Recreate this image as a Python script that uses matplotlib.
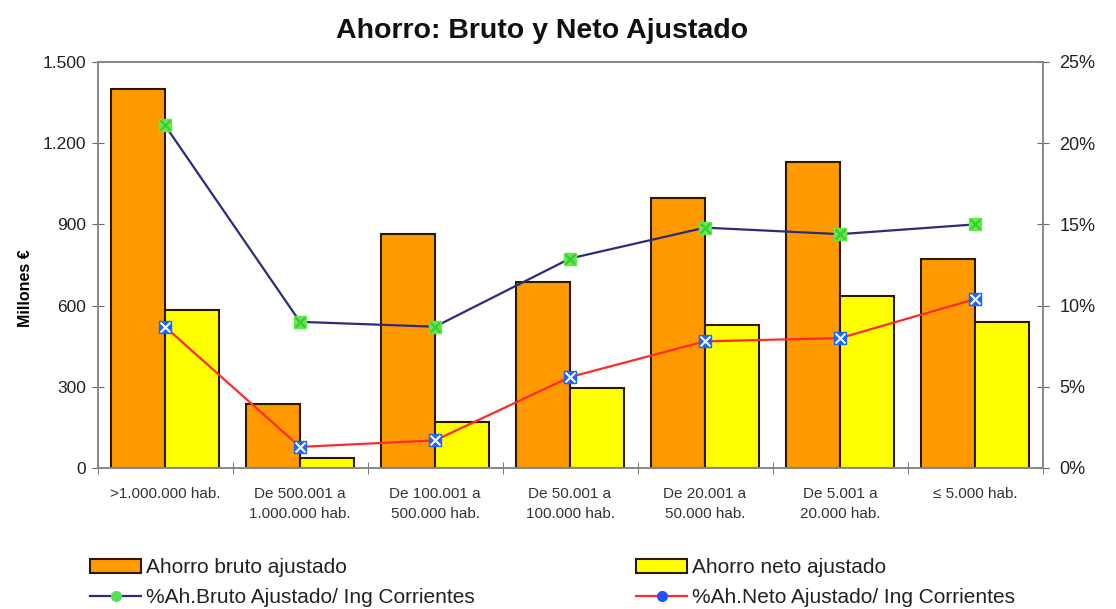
import matplotlib
matplotlib.use("Agg")
import matplotlib.pyplot as plt
import numpy as np
from matplotlib.patches import Patch
from matplotlib.lines import Line2D
from matplotlib.legend_handler import HandlerTuple
from matplotlib.ticker import FuncFormatter, MultipleLocator

plt.rcParams['font.family'] = ['Liberation Sans', 'DejaVu Sans']

categories = [">1.000.000 hab.", "De 500.001 a\n1.000.000 hab.", "De 100.001 a\n500.000 hab.",
              "De 50.001 a\n100.000 hab.", "De 20.001 a\n50.000 hab.", "De 5.001 a\n20.000 hab.",
              "≤ 5.000 hab."]
ahorro_bruto = [1400, 238, 864, 687, 997, 1130, 772]
ahorro_neto = [584, 37, 170, 296, 528, 635, 539]
pct_bruto = [21.1, 9.0, 8.7, 12.9, 14.8, 14.4, 15.0]
pct_neto = [8.7, 1.3, 1.7, 5.6, 7.8, 8.0, 10.4]

W, H = 1116, 609
fig = plt.figure(figsize=(W/100, H/100), dpi=100)
ax = fig.add_axes([97.5/W, 1-468/H, (1042.5-97.5)/W, (468-62)/H])
ax2 = ax.twinx()

x = np.arange(len(categories))
w = 0.4
ax.bar(x - w/2, ahorro_bruto, w, color='#FF9900', edgecolor='#2a1a00', linewidth=1.5, zorder=2)
ax.bar(x + w/2, ahorro_neto, w, color='#FFFF00', edgecolor='#2a1a00', linewidth=1.5, zorder=2)

ax.set_xlim(-0.5, len(categories) - 0.5)
ax.set_ylim(0, 1500)
ax.yaxis.set_major_locator(MultipleLocator(300))
ax.yaxis.set_major_formatter(FuncFormatter(lambda v, p: f"{int(v):,}".replace(",", ".")))
ax.set_xticks(x)
ax.set_xticklabels(categories, fontsize=11, color='#333333', linespacing=1.5)
ax.set_xticks(np.arange(-0.5, len(categories)), minor=True)
ax.tick_params(axis='x', which='major', length=0, pad=14)
ax.tick_params(axis='x', which='minor', length=8, direction='inout', color='#666666')
ax.tick_params(axis='y', length=8, direction='inout', color='#666666', labelsize=12.5,
               labelcolor='#222222', pad=4)
ax.set_ylabel("Millones €", fontsize=11.5, fontweight='bold')
ax.yaxis.set_label_coords((33 - 97.5) / 945, 1 - (288 - 62) / 406)

ax2.plot(x, pct_bruto, color='#2B2B7F', lw=1.6, zorder=3)
ax2.scatter(x, pct_bruto, marker='s', s=80, color='#66E64D', zorder=4)
ax2.scatter(x, pct_bruto, marker='x', s=50, color='#33CC33', linewidths=1.5, zorder=5)
ax2.plot(x, pct_neto, color='#FF2A2A', lw=1.6, zorder=3)
ax2.scatter(x, pct_neto, marker='s', s=80, color='#1A66FF', zorder=4)
ax2.scatter(x, pct_neto, marker='x', s=50, color='white', linewidths=1.5, zorder=5)
ax2.set_ylim(0, 25)
ax2.yaxis.set_major_locator(MultipleLocator(5))
ax2.yaxis.set_major_formatter(FuncFormatter(lambda v, p: f"{int(v)}%"))
ax2.tick_params(axis='y', length=8, direction='inout', color='#666666', labelsize=13,
                labelcolor='#222222', pad=8)

for a in (ax, ax2):
    for s in a.spines.values():
        s.set_color('#888888')
        s.set_linewidth(1.2)

fig.text(542/W, 1-31/H, "Ahorro: Bruto y Neto Ajustado", ha='center', va='center',
         fontsize=20.5, fontweight='bold', color='#111111')

hb = Patch(facecolor='#FF9900', edgecolor='#2a1a00', linewidth=1.5)
hn = Patch(facecolor='#FFFF00', edgecolor='#2a1a00', linewidth=1.5)
hl1 = (Line2D([], [], color='#2B2B7F', lw=1.6),
       Line2D([], [], marker='o', ms=7, color='#55E055', ls='none'))
hl2 = (Line2D([], [], color='#FF2A2A', lw=1.6),
       Line2D([], [], marker='o', ms=7, color='#1A55FF', ls='none'))
legkw = dict(frameon=False, fontsize=15, handlelength=2.45, handleheight=0.68,
             handletextpad=0.25, labelspacing=0.55, borderaxespad=0, borderpad=0,
             loc='upper left', handler_map={tuple: HandlerTuple(ndivide=1)})
leg1 = fig.legend([hb, hl1], ["Ahorro bruto ajustado", "%Ah.Bruto Ajustado/ Ing Corrientes"],
                  bbox_to_anchor=(90/W, 1-558/H), **legkw)
leg2 = fig.legend([hn, hl2], ["Ahorro neto ajustado", "%Ah.Neto Ajustado/ Ing Corrientes"],
                  bbox_to_anchor=(636/W, 1-558/H), **legkw)
for lg in (leg1, leg2):
    for t in lg.get_texts():
        t.set_color('#222222')

fig.savefig("out.png", dpi=100)
